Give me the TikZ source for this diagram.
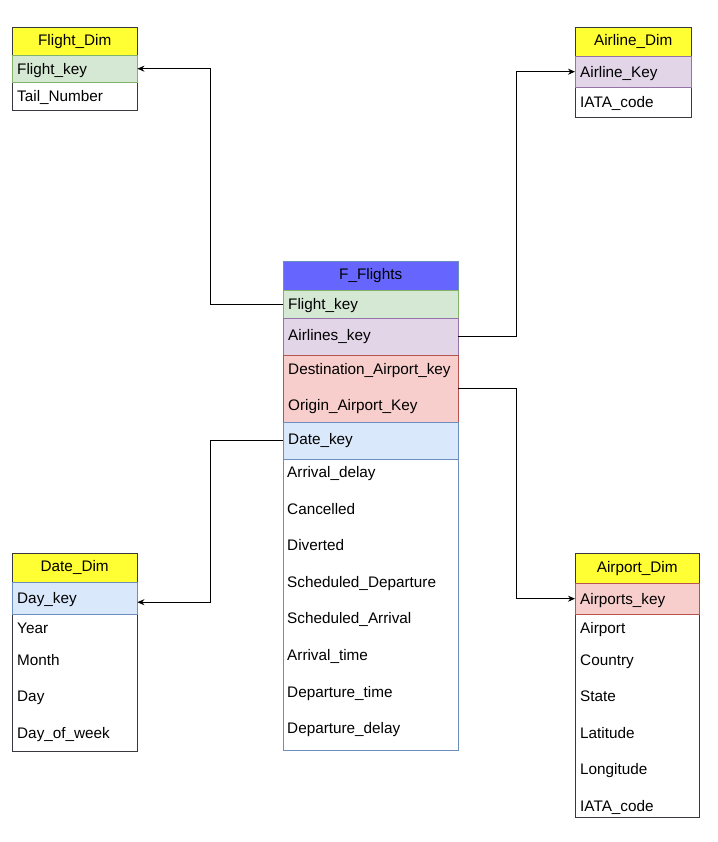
\documentclass[tikz,border=0pt]{standalone}
\usepackage{fontspec}
\setmainfont{Liberation Sans}
\usetikzlibrary{arrows.meta, positioning}
\definecolor{dimyellow}{RGB}{255,255,51}
\definecolor{facthead}{RGB}{102,102,255}
\definecolor{tableline}{RGB}{54,57,61}
\definecolor{greenfill}{RGB}{213,232,212}
\definecolor{greenline}{RGB}{130,179,102}
\definecolor{purplefill}{RGB}{225,213,231}
\definecolor{purpleline}{RGB}{150,115,166}
\definecolor{redfill}{RGB}{248,206,204}
\definecolor{redline}{RGB}{184,84,80}
\definecolor{bluefill}{RGB}{218,232,252}
\definecolor{blueline}{RGB}{108,142,191}
\tikzset{
  every node/.style={font=\fontsize{15.3}{18}\selectfont}, % one size for all texts
  hdr/.style={draw=tableline, anchor=north west, inner sep=0pt,
    minimum width=#1}, % table title
  keyrow/.style={anchor=north west, inner xsep=5pt, inner ysep=0pt,
    minimum width=#1, text width=#1-10pt, align=left}, % coloured key row
  keyone/.style={keyrow=#1, text depth=0pt}, % key row with one short line
  bodybox/.style={draw=tableline, fill=white, anchor=north west,
    minimum width=#1, inner sep=0pt}, % plain part of a table
  field/.style={anchor=base west, inner sep=0pt, yshift=-5.5pt}, % one attribute
  link/.style={line width=1pt, -{Stealth[length=7pt,width=6pt]}},
}

\begin{document}
\begin{tikzpicture}[x=1pt, y=-1pt]
    \useasboundingbox (0,0) rectangle (717,842);

    % Flight_Dim
    \node[bodybox=125pt, minimum height=55pt] (fd_body) at (12,55) {};
    \node[hdr=125pt, fill=dimyellow, minimum height=28pt] (fd_head) at (12,27) {Flight\_Dim};
    \node[keyone=125pt, draw=greenline, fill=greenfill, minimum height=27pt] (fd_key) at (12,55) {Flight\_key};
    \node[field] (fd_tail) at (17,96) {Tail\_Number};

    % Airline_Dim
    \node[bodybox=116pt, minimum height=61pt] (ad_body) at (575,56) {};
    \node[hdr=116pt, fill=dimyellow, minimum height=29pt] (ad_head) at (575,27) {Airline\_Dim};
    \node[keyone=116pt, draw=purpleline, fill=purplefill, minimum height=31pt] (ad_key) at (575,56) {Airline\_Key};
    \node[field] (ad_iata) at (580,102) {IATA\_code};

    % F_Flights
    \node[bodybox=175pt, draw=blueline, minimum height=460pt] (ff_body) at (283,290) {};
    \node[hdr=175pt, draw=blueline, fill=facthead, minimum height=29pt] (ff_head) at (283,261) {F\_Flights};
    \node[keyone=175pt, draw=greenline, fill=greenfill, minimum height=28pt] (ff_flight) at (283,290) {Flight\_key};
    \node[keyrow=175pt, draw=purpleline, fill=purplefill, minimum height=37pt] (ff_airline) at (283,318) {Airlines\_key\\[9pt]};
    \node[keyrow=175pt, draw=redline, fill=redfill, minimum height=67pt] (ff_airport) at (283,355) {Destination\_Airport\_key\\[18pt]Origin\_Airport\_Key};
    \node[keyrow=175pt, draw=blueline, fill=bluefill, minimum height=37pt] (ff_date) at (283,422) {Date\_key\\[9pt]};
    \foreach \f [count=\i] in {Arrival\_delay, Cancelled, Diverted, Scheduled\_Departure,
      Scheduled\_Arrival, Arrival\_time, Departure\_time, Departure\_delay}
      \node[field] (ff_f\i) at (287,{435.4+36.6*\i}) {\f};

    % Date_Dim
    \node[bodybox=125pt, minimum height=169pt] (dd_body) at (12,582) {};
    \node[hdr=125pt, fill=dimyellow, minimum height=29pt] (dd_head) at (12,553) {Date\_Dim};
    \node[keyone=125pt, draw=blueline, fill=bluefill, minimum height=32pt] (dd_key) at (12,582) {Day\_key};
    \foreach \f/\y [count=\i] in {Year/628, Month/660, Day/696, Day\_of\_week/733}
      \node[field] (dd_f\i) at (17,\y) {\f};

    % Airport_Dim
    \node[bodybox=124pt, minimum height=234pt] (apd_body) at (575,583) {};
    \node[hdr=124pt, fill=dimyellow, minimum height=30pt] (apd_head) at (575,553) {Airport\_Dim};
    \node[keyone=124pt, draw=redline, fill=redfill, minimum height=31pt] (apd_key) at (575,583) {Airports\_key};
    \foreach \f/\y [count=\i] in {Airport/628, Country/660, State/696, Latitude/733,
      Longitude/769, IATA\_code/806}
      \node[field] (apd_f\i) at (580,\y) {\f};

    \draw[link] (ff_flight.west) -- ++(-73,0) |- (fd_key.east);
    \draw[link] (ff_airline.east) -- ++(58,0) |- (ad_key.west);
    \draw[link] (ff_airport.east) -- ++(58,0) |- (apd_key.west);
    \draw[link] (ff_date.west) -- ++(-73,0) |- ([yshift=-4pt]dd_key.east);
  \end{tikzpicture}
\end{document}
